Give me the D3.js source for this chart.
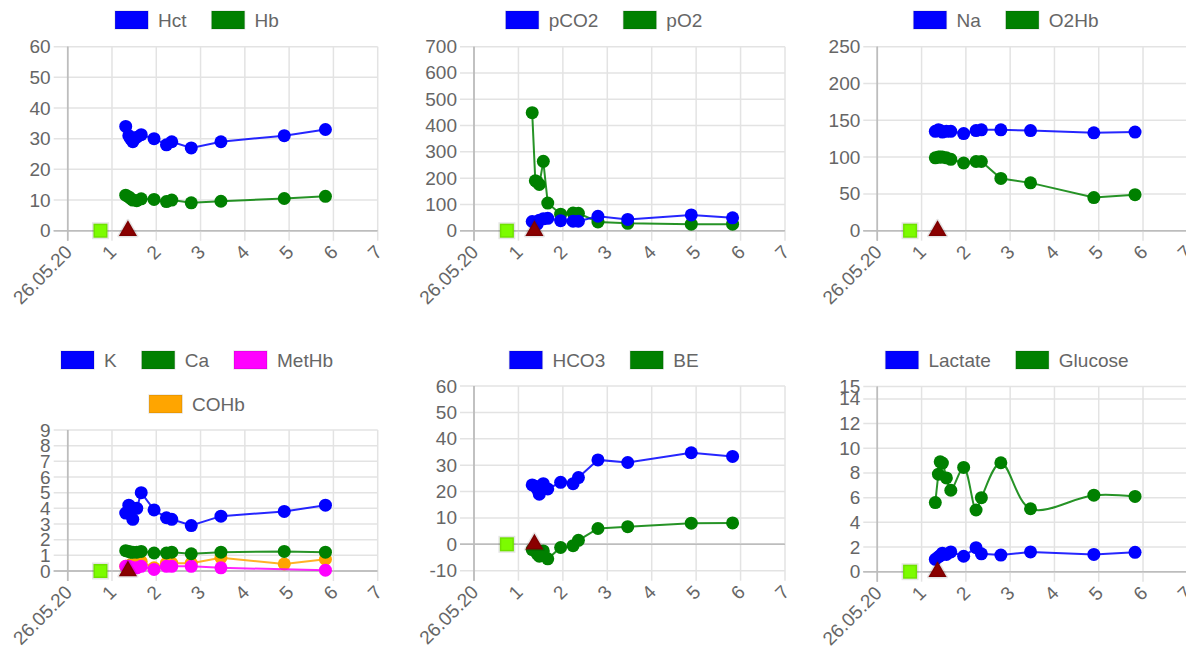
<!DOCTYPE html>
<html>
<head>
<meta charset="utf-8">
<script src="https://cdn.jsdelivr.net/npm/d3@7/dist/d3.min.js"></script>
<style>
  html, body { margin: 0; padding: 0; background: #fff; }
  svg { display: block; }
  text { font-family: "Liberation Sans", Arial, Helvetica, sans-serif; }
</style>
</head>
<body>
<svg id="chart" width="1186" height="651"></svg>
<script>
// Sample times (days after 26.05.20)
const times = [1.31, 1.38, 1.42, 1.47, 1.56, 1.66, 1.95, 2.23, 2.35, 2.79, 3.46, 4.89, 5.82];

// Blood gas values per sample
const hct     = [34, 31, 30, 29, 30.5, 31.3, 30, 28, 29, 27, 29, 31, 33];
const hb      = [11.6, 11, 10.5, 10, 9.8, 10.4, 10.2, 9.5, 10, 9.1, 9.6, 10.5, 11.2];
const pco2    = [35, 30, 25, 40, 45, 47, 38, 36, 36, 55, 43, 60, 49];
const po2     = [449, 190, 186, 176, 264, 105, 63, 67, 66, 33, 28, 25, 25];
const na      = [135, 137, 136, 134, 135, 135, 132, 136, 137, 137, 136, 133, 134];
const o2hb    = [99, 100, 100, 100, 99, 97, 92, 94, 94, 71, 65, 45, 49];
const k       = [3.7, 4.2, 4.1, 3.3, 4.0, 5.0, 3.9, 3.4, 3.3, 2.9, 3.5, 3.8, 4.2];
const ca      = [1.3, 1.25, 1.2, 1.2, 1.2, 1.25, 1.15, 1.15, 1.2, 1.1, 1.2, 1.25, 1.2];
const methb   = [0.3, 0.3, 0.25, 0.2, 0.2, 0.3, 0.1, 0.3, 0.3, 0.3, 0.2, null, 0.05];
const cohb    = [0.3, 0.3, 0.4, 0.4, 0.5, 0.6, 0.2, 0.5, 0.5, 0.5, 0.85, 0.45, 0.75];
const hco3    = [22.5, 22, 21, 19, 23, 21, 23.5, 23, 25.3, 32, 31, 34.7, 33.3];
const be      = [-2, -2.5, -3.5, -4.5, -2.5, -5.5, -1.2, -0.5, 1.5, 6, 6.7, 8, 8.1];
const lactate = [1.0, 1.2, 1.3, 1.5, 1.4, 1.6, 1.25, 1.95, 1.45, 1.35, 1.6, 1.4, 1.57];
const glucose = [5.6, 7.9, 8.9, 8.8, 7.6, 6.6, 8.45, 5.0, 6.0, 8.83, 5.1, 6.2, 6.1];

// Event markers on the time axis
const eventTimes  = [0.74, 1.36];
const eventShapes = ["square", "triangle"];

// Axis ticks
const xTickValues = [0, 1, 2, 3, 4, 5, 6, 7];
const xTickLabels = ["26.05.20", "1", "2", "3", "4", "5", "6", "7"];
const yTicksHct   = [0, 10, 20, 30, 40, 50, 60];
const yTicksGas   = [0, 100, 200, 300, 400, 500, 600, 700];
const yTicksNa    = [0, 50, 100, 150, 200, 250];
const yTicksK     = [0, 1, 2, 3, 4, 5, 6, 7, 8, 9];
const yTicksHco3  = [-10, 0, 10, 20, 30, 40, 50, 60];
const yTicksLac   = [0, 2, 4, 6, 8, 10, 12, 14, 15];

const BLUE = "#0000ff", GREEN = "#008000", MAGENTA = "#ff00ff", ORANGE = "#ffa500";

const panels = [
  { series: [{name: "Hct", values: hct, color: BLUE}, {name: "Hb", values: hb, color: GREEN}],
    yTicks: yTicksHct, x0: 67.7, x1: 377.7, yTop: 46.7, yBot: 230.7, legendCx: 197, legendRows: [[0, 1]], legendY: [20] },
  { series: [{name: "pCO2", values: pco2, color: BLUE}, {name: "pO2", values: po2, color: GREEN}],
    yTicks: yTicksGas, x0: 474, x1: 785, yTop: 46.7, yBot: 230.7, legendCx: 604, legendRows: [[0, 1]], legendY: [20] },
  { series: [{name: "Na", values: na, color: BLUE}, {name: "O2Hb", values: o2hb, color: GREEN}],
    yTicks: yTicksNa, x0: 877.3, x1: 1187.3, yTop: 46.7, yBot: 230.7, legendCx: 1006, legendRows: [[0, 1]], legendY: [20] },
  { series: [{name: "K", values: k, color: BLUE}, {name: "Ca", values: ca, color: GREEN},
             {name: "MetHb", values: methb, color: MAGENTA}, {name: "COHb", values: cohb, color: ORANGE}],
    yTicks: yTicksK, x0: 67.7, x1: 377.7, yTop: 430, yBot: 571, legendCx: 197, legendRows: [[0, 1, 2], [3]], legendY: [360, 404] },
  { series: [{name: "HCO3", values: hco3, color: BLUE}, {name: "BE", values: be, color: GREEN}],
    yTicks: yTicksHco3, x0: 474, x1: 785, yTop: 386, yBot: 570.7, legendCx: 604, legendRows: [[0, 1]], legendY: [360] },
  { series: [{name: "Lactate", values: lactate, color: BLUE}, {name: "Glucose", values: glucose, color: GREEN, smooth: true}],
    yTicks: yTicksLac, x0: 877.3, x1: 1187.3, yTop: 386.6, yBot: 571.7, legendCx: 1007, legendRows: [[0, 1]], legendY: [360] }
];

const svg = d3.select("#chart");
svg.append("rect").attr("width", 1186).attr("height", 651).attr("fill", "#fff");

const FONT = 19;
const GRID = "#e3e3e3", ZERO = "#bdbdbd", LABEL = "#666";

panels.forEach(p => {
  const g = svg.append("g");
  const yMin = d3.min(p.yTicks), yMax = d3.max(p.yTicks);
  const x = d3.scaleLinear().domain([0, 7]).range([p.x0, p.x1]);
  const y = d3.scaleLinear().domain([yMin, yMax]).range([p.yBot, p.yTop]);

  // horizontal grid + y tick marks
  g.selectAll(".hg").data(p.yTicks).join("line")
    .attr("x1", p.x0 - 14).attr("x2", p.x1)
    .attr("y1", d => y(d)).attr("y2", d => y(d))
    .attr("stroke", d => d === 0 ? ZERO : GRID).attr("stroke-width", 1.5);

  // vertical grid + x tick marks
  g.selectAll(".vg").data(xTickValues).join("line")
    .attr("x1", d => x(d)).attr("x2", d => x(d))
    .attr("y1", p.yTop).attr("y2", p.yBot + 10)
    .attr("stroke", d => d === 0 ? ZERO : GRID).attr("stroke-width", 1.5);

  // zero lines drawn above the grid
  g.append("line").attr("x1", p.x0 - 14).attr("x2", p.x1).attr("y1", y(0)).attr("y2", y(0))
    .attr("stroke", ZERO).attr("stroke-width", 1.5);
  g.append("line").attr("x1", p.x0).attr("x2", p.x0).attr("y1", p.yTop).attr("y2", p.yBot + 10)
    .attr("stroke", ZERO).attr("stroke-width", 1.5);

  // y tick labels
  g.selectAll(".yl").data(p.yTicks).join("text")
    .attr("x", p.x0 - 17).attr("y", d => y(d))
    .attr("text-anchor", "end").attr("dominant-baseline", "central")
    .attr("font-size", FONT).attr("fill", LABEL)
    .text(d => d);

  // x tick labels, rotated
  g.selectAll(".xl").data(xTickValues).join("text")
    .attr("transform", (d) => `translate(${x(d) + 1},${p.yBot + 18}) rotate(-45)`)
    .attr("text-anchor", "end").attr("dominant-baseline", "central")
    .attr("font-size", FONT).attr("fill", LABEL)
    .text((d, i) => xTickLabels[i]);

  // series: first series ends up on top
  const ordered = p.series.slice().reverse();
  ordered.forEach(s => {
    const pts = times.map((t, i) => ({t, v: s.values[i]})).filter(d => d.v !== null);
    const line = d3.line().x(d => x(d.t)).y(d => y(d.v))
      .curve(s.smooth ? d3.curveCatmullRom.alpha(0.5) : d3.curveLinear);
    g.append("path").datum(pts).attr("d", line)
      .attr("fill", "none").attr("stroke", s.color).attr("stroke-width", 2).attr("stroke-opacity", 0.85);
    g.selectAll(null).data(pts).join("circle")
      .attr("cx", d => x(d.t)).attr("cy", d => y(d.v)).attr("r", 6.5)
      .attr("fill", s.color);
  });

  // event markers on the zero line
  eventTimes.forEach((t, i) => {
    const cx = x(t), cy = y(0);
    if (eventShapes[i] === "square") {
      g.append("rect").attr("x", cx - 7).attr("y", cy - 7).attr("width", 14).attr("height", 14)
        .attr("fill", "#7cfc00").attr("stroke", "rgba(0,0,0,0.1)").attr("stroke-width", 3);
    } else {
      const r = 10.5;
      const edge = 3 * r / Math.sqrt(3), h = edge * Math.sqrt(3) / 2;
      const tri = [[cx - edge / 2, cy + h / 3], [cx + edge / 2, cy + h / 3], [cx, cy - 2 * h / 3]];
      g.append("path").attr("d", d3.line()(tri) + "Z")
        .attr("fill", "#8b0000").attr("stroke", "rgba(0,0,0,0.1)").attr("stroke-width", 3)
        .attr("stroke-linejoin", "round");
    }
  });

  // legend rows, centred over the panel
  p.legendRows.forEach((row, ri) => {
    const lg = g.append("g");
    let cursor = 0;
    row.forEach((si, j) => {
      const s = p.series[si];
      const item = lg.append("g").attr("transform", `translate(${cursor},0)`);
      item.append("rect").attr("x", 0).attr("y", -9).attr("width", 33).attr("height", 18)
        .attr("fill", s.color).attr("stroke", "rgba(0,0,0,0.1)").attr("stroke-width", 1.5);
      const txt = item.append("text").attr("x", 43).attr("y", 0)
        .attr("dominant-baseline", "central").attr("font-size", FONT).attr("fill", LABEL)
        .text(s.name);
      const w = txt.node().getComputedTextLength();
      cursor += 43 + w + (j < row.length - 1 ? 25 : 0);
    });
    lg.attr("transform", `translate(${p.legendCx - cursor / 2},${p.legendY[ri]})`);
  });
});
</script>
</body>
</html>
